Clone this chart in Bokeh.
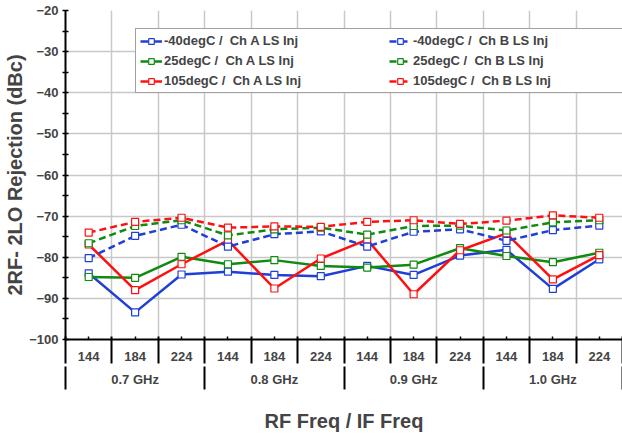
from bokeh.plotting import figure
from bokeh.models import (ColumnDataSource, FixedTicker, Legend, LegendItem,
                          LinearAxis, Range1d)
from bokeh.embed import file_html
from bokeh.resources import INLINE

# ---- data ----
rf_groups = ["0.7 GHz", "0.8 GHz", "0.9 GHz", "1.0 GHz"]
if_freqs = ["144", "184", "224"]

ch_a_m40 = [-83.9, -93.4, -84.2, -83.5, -84.3, -84.6, -82.1, -84.3, -79.6, -78.2, -87.7, -80.5]
ch_a_25 = [-84.8, -85.0, -79.9, -81.7, -80.7, -82.1, -82.5, -81.8, -77.8, -79.7, -81.2, -78.9]
ch_a_105 = [-76.9, -88.0, -81.7, -75.9, -87.6, -80.3, -75.7, -89.0, -78.3, -74.2, -85.4, -79.5]
ch_b_m40 = [-80.2, -74.8, -72.1, -77.4, -74.4, -73.7, -77.4, -73.8, -73.2, -76.0, -73.4, -72.3]
ch_b_25 = [-76.6, -72.4, -71.0, -74.7, -73.2, -72.8, -74.5, -72.4, -72.3, -73.5, -71.5, -71.0]
ch_b_105 = [-74.0, -71.4, -70.4, -72.8, -72.5, -72.6, -71.4, -71.0, -71.9, -71.1, -69.8, -70.4]

series_names = ["-40degC /  Ch A LS Inj", "25degC /  Ch A LS Inj", "105degC /  Ch A LS Inj",
                "-40degC /  Ch B LS Inj", "25degC /  Ch B LS Inj", "105degC /  Ch B LS Inj"]
series_values = [ch_a_m40, ch_a_25, ch_a_105, ch_b_m40, ch_b_25, ch_b_105]
series_colors = ["#1f3fd6", "#108a10", "#ff1010", "#1f3fd6", "#108a10", "#ff1010"]
series_dash = ["solid", "solid", "solid", "7 4", "7 4", "7 4"]

y_ticks = [-100, -90, -80, -70, -60, -50, -40, -30, -20]
y_title = "2RF- 2LO Rejection (dBc)"
x_title = "RF Freq / IF Freq"

FONT = "Liberation Sans"

n_if = len(if_freqs)
n_grp = len(rf_groups)
n = n_grp * n_if
xs = list(range(n))
cat_labels = [if_freqs[i % n_if] for i in range(n)]
inner_bounds = [i + 0.5 for i in range(n - 1)]
all_bounds = [-0.5] + inner_bounds + [n - 0.5]
grp_centers = [g * n_if + (n_if - 1) // 2 for g in range(n_grp)]
grp_bounds = [g * n_if - 0.5 for g in range(n_grp + 1)]

p = figure(width=622, height=434, output_backend="svg", toolbar_location=None,
           x_range=Range1d(-0.5, n - 0.5), y_range=Range1d(y_ticks[0], y_ticks[-1]),
           min_border_left=65, min_border_right=0, min_border_top=10, min_border_bottom=0)
p.outline_line_color = None
p.background_fill_color = "white"

items = []
for name, vals, col, dash in zip(series_names, series_values, series_colors, series_dash):
    src = ColumnDataSource(dict(x=xs, y=vals))
    lr = p.line("x", "y", source=src, line_color=col, line_width=2.5, line_dash=dash)
    sr = p.scatter("x", "y", source=src, marker="square", size=7, line_color=col,
                   fill_color="white", line_width=1.2)
    items.append(LegendItem(label=name, renderers=[lr, sr]))

legend = Legend(items=items, ncols=2, location=(70, 246),
                label_text_font=FONT, label_text_font_style="bold", label_text_font_size="13px",
                glyph_width=22, glyph_height=14, label_standoff=2, label_width=220,
                label_height=14, spacing=5, padding=4, margin=0,
                border_line_color="#444444", border_line_width=1,
                background_fill_color="white", background_fill_alpha=1)
p.add_layout(legend)

# grids
p.xgrid.ticker = FixedTicker(ticks=inner_bounds)
p.xgrid.grid_line_color = "#c8c8c8"
p.xgrid.grid_line_width = 1.5
p.ygrid.grid_line_color = "#c8c8c8"
p.ygrid.grid_line_width = 1.5

# y axis
p.yaxis.ticker = FixedTicker(ticks=y_ticks,
                             minor_ticks=[t + 5 for t in y_ticks[:-1]])
p.yaxis.axis_label = y_title
p.yaxis.axis_label_text_font = FONT
p.yaxis.axis_label_text_font_style = "bold"
p.yaxis.axis_label_text_font_size = "20px"
p.yaxis.axis_label_standoff = 0
p.yaxis.major_label_text_font = FONT
p.yaxis.major_label_text_font_style = "bold"
p.yaxis.major_label_text_font_size = "13px"
p.yaxis.major_label_standoff = 4
p.yaxis.axis_line_width = 2
p.yaxis.axis_line_color = "black"
p.yaxis.major_tick_in = 3
p.yaxis.major_tick_out = 3
p.yaxis.minor_tick_in = 3
p.yaxis.minor_tick_out = 3
p.yaxis.major_tick_line_width = 1.5
p.yaxis.minor_tick_line_width = 1.5


def style_row_axis(ax, standoff):
    ax.major_label_text_font = FONT
    ax.major_label_text_font_style = "bold"
    ax.major_label_text_font_size = "13px"
    ax.major_label_standoff = standoff
    ax.major_tick_out = 0
    ax.minor_tick_out = 0
    ax.minor_tick_line_width = 2
    ax.minor_tick_line_color = "black"


# row 1: IF labels at category centres (main x axis line)
xa = p.xaxis[0]
xa.ticker = FixedTicker(ticks=xs, minor_ticks=[])
xa.major_label_overrides = {i: lab for i, lab in zip(xs, cat_labels)}
style_row_axis(xa, 12)
xa.major_tick_in = 3
xa.major_tick_line_width = 1.5
xa.minor_tick_in = 0
xa.axis_line_width = 2
xa.axis_line_color = "black"

# row 2: RF group labels; its minor ticks reach up through row 1 at every boundary
ga = LinearAxis(ticker=FixedTicker(ticks=grp_centers, minor_ticks=all_bounds),
                major_label_overrides={c: g for c, g in zip(grp_centers, rf_groups)})
style_row_axis(ga, 8)
ga.axis_line_color = None
ga.major_tick_line_color = None
ga.major_tick_in = 0
ga.minor_tick_in = 27
p.add_layout(ga, "below")

# row 3: axis title; its minor ticks reach up through row 2 at group boundaries
ta = LinearAxis(ticker=FixedTicker(ticks=[], minor_ticks=grp_bounds))
style_row_axis(ta, 0)
ta.axis_line_color = None
ta.major_tick_line_color = None
ta.major_tick_in = 0
ta.minor_tick_in = 23
ta.axis_label = x_title
ta.axis_label_text_font = FONT
ta.axis_label_text_font_style = "bold"
ta.axis_label_text_font_size = "20px"
ta.axis_label_standoff = 20
p.add_layout(ta, "below")

open("out.html", "w").write(file_html(p, INLINE))
